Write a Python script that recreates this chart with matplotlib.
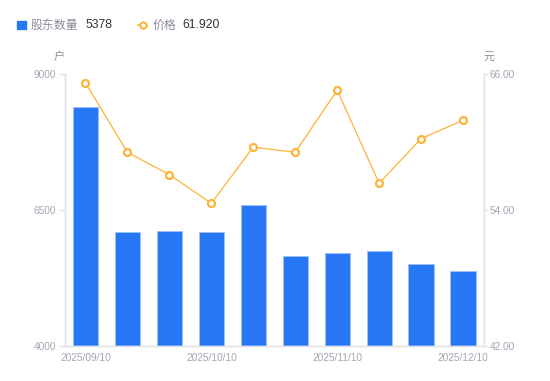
import matplotlib
matplotlib.use('Agg')

import matplotlib.pyplot as plt
import numpy as np

# data
dates = ['2025/09/10', '2025/09/19', '2025/09/30', '2025/10/10', '2025/10/20',
         '2025/10/31', '2025/11/10', '2025/11/20', '2025/11/28', '2025/12/10']
holders = [8391, 6097, 6105, 6097, 6587, 5657, 5701, 5738, 5505, 5378]
prices = [65.22, 59.09, 57.12, 54.59, 59.55, 59.09, 64.57, 56.36, 60.29, 61.92]
left_ticks = [4000, 6500, 9000]
right_ticks = [42.00, 54.00, 66.00]

W, H = 550, 381
BAR_COLOR = '#2878F5'
LINE_COLOR = '#FBB33A'
LABEL_GRAY = '#A3A6B2'
AXIS_GRAY = '#E3E4E8'
CJK = ['Noto Sans CJK SC', 'DejaVu Sans']
NUM = ['Liberation Sans', 'DejaVu Sans']


def px(x, y):
  return x / W, 1 - y / H


fig = plt.figure(figsize=(W / 100, H / 100), dpi=100)
ax = fig.add_axes([64.5 / W, 1 - 346 / H, (484 - 64.5) / W, (346 - 74) / H])
ax2 = ax.twinx()

x = np.arange(len(dates))
ax.bar(x, holders, width=0.6, color=BAR_COLOR, edgecolor='#9CC0FA', linewidth=0.6, zorder=2)
ax.set_xlim(-0.5, len(dates) - 0.5)
ax.set_ylim(left_ticks[0], left_ticks[-1])
ax.set_yticks(left_ticks)
ax.set_yticklabels(['%d' % t for t in left_ticks], family=NUM)

ax2.plot(x, prices, color=LINE_COLOR, linewidth=0.9, marker='o', markersize=5,
         markerfacecolor='white', markeredgecolor=LINE_COLOR, markeredgewidth=1.6, zorder=3)
ax2.set_ylim(right_ticks[0], right_ticks[-1])
ax2.set_yticks(right_ticks)
ax2.set_yticklabels(['%.2f' % t for t in right_ticks], family=NUM)

ax.set_xticks(x[::3])
ax.set_xticklabels([dates[i] for i in range(0, len(dates), 3)], family=NUM)

for a in (ax, ax2):
  a.spines['top'].set_visible(False)
  for side in ('left', 'right', 'bottom'):
    a.spines[side].set_color(AXIS_GRAY)
    a.spines[side].set_linewidth(1)
  a.tick_params(axis='y', length=4, width=1, color=AXIS_GRAY, labelcolor=LABEL_GRAY,
                labelsize=7.3, pad=2)
ax.tick_params(axis='x', length=0, labelcolor=LABEL_GRAY, labelsize=7.3, pad=5)
ax2.tick_params(axis='y', length=3, pad=1)

# unit labels
fig.text(*px(59, 57), '户', family=CJK, fontsize=8, color='#8C8F9B', ha='center', va='center')
fig.text(*px(489, 57), '元', family=CJK, fontsize=8, color='#8C8F9B', ha='center', va='center')

# legend drawn by hand like the original
fig.patches.append(plt.Rectangle(px(16.7, 29), 9 / W, 8 / H, transform=fig.transFigure,
                                 color=BAR_COLOR, figure=fig))
fig.text(*px(31, 25), '股东数量', family=CJK, fontsize=8.6, color='#8A8D99', va='center')
fig.text(*px(85, 25), '%d' % holders[-1], family=NUM, fontsize=8.8, color='#333333', va='center')
fig.lines.append(plt.Line2D([138 / W, 142.5 / W, 147 / W], [1 - 25 / H] * 3, transform=fig.transFigure,
                            color=LINE_COLOR, linewidth=1.2, marker='o', markersize=4.5,
                            markevery=[1], markerfacecolor='white', markeredgewidth=1.5,
                            markeredgecolor=LINE_COLOR, figure=fig))
fig.text(*px(153, 25), '价格', family=CJK, fontsize=8.6, color='#8A8D99', va='center')
fig.text(*px(182, 25), '%.3f' % prices[-1], family=NUM, fontsize=8.8, color='#333333', va='center')

plt.savefig('out.png', dpi=100)
